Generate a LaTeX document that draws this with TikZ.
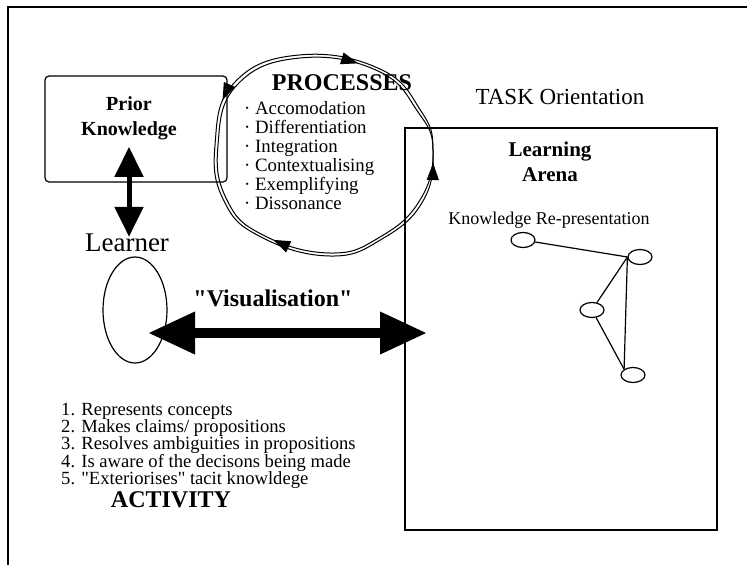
\documentclass[tikz,border=0pt]{standalone}
\usepackage{fontspec}
\setmainfont{Liberation Serif}[Ligatures=TeXOff]
\usetikzlibrary{arrows.meta,shapes.geometric,positioning,decorations.markings}
\tikzset{cyctip/.tip={Triangle[length=17pt,width=12pt]}}
\tikzstyle{box} = [rectangle, draw=black, line width=1.2pt]
\tikzstyle{pkbox} = [rectangle, rounded corners=4pt, minimum width=182pt, minimum height=106pt, draw=black, line width=1.2pt]
\tikzstyle{knode} = [ellipse, draw=black, line width=1.2pt, minimum width=24pt, minimum height=15pt, inner sep=0pt]
\tikzstyle{darrow} = [line width=5pt, {Triangle[length=30pt,width=28pt]}-{Triangle[length=30pt,width=28pt]}]
\tikzstyle{bigarrow} = [line width=10pt, {Triangle[length=47pt,width=40pt]}-{Triangle[length=47pt,width=40pt]}]
\tikzstyle{cyc} = [line width=1pt]
\tikzstyle{fwdtips} = [postaction={decorate, decoration={markings, mark=at position 220pt with {\arrow{cyctip}}, mark=at position 533pt with {\arrow{cyctip}}}}]
\tikzstyle{backtips} = [postaction={decorate, decoration={markings, mark=at position 13pt with {\arrowreversed{cyctip}}, mark=at position 394pt with {\arrowreversed{cyctip}}}}]
\tikzstyle{txt} = [inner sep=0pt, align=center]

\begin{document}
\begin{tikzpicture}[x=1pt,y=-1pt]
\useasboundingbox (0,0) rectangle (747,565);
\draw[line width=1.2pt] (747,7) -- (8,7) -- (8,565);
% learner side
\node[pkbox] (prior) at (136,129) {};
\node[txt, font=\fontsize{20}{25}\selectfont\bfseries] (priortxt) at (129,118) {Prior\\Knowledge};
\node[txt, font=\fontsize{27}{30}\selectfont] (learnertxt) at (127,243) {Learner};
\node[ellipse, draw=black, line width=1.2pt, minimum width=64pt, minimum height=106pt] (learner) at (135,310) {};
\draw[darrow, shorten <=7pt, shorten >=-3pt] (priortxt.south) -- (priortxt.south |- learnertxt.north);
% processes cycle
\draw[cyc, fwdtips] plot [smooth cycle, tension=0.75] coordinates {(418,112) (433,150) (420,200) (380,237) (330,253) (263,235) (227,200) (218,145) (237,85) (300,58) (378,71)};
\draw[cyc, backtips] plot [smooth cycle, tension=0.75] coordinates {(421,111) (433,150) (423,201) (382,239) (330,256) (261,237) (224,201) (215,145) (234,83) (299,55) (380,69)};
\node[txt, font=\fontsize{24}{26}\selectfont\bfseries] (proc) at (342,83) {PROCESSES};
\node[txt, anchor=west, align=left, font=\fontsize{18.8}{19}\selectfont] (proclist) at (244,156) {· Accomodation\\· Differentiation\\· Integration\\· Contextualising\\· Exemplifying\\· Dissonance};
% task side
\node[txt, font=\fontsize{23}{26}\selectfont] (task) at (560,97) {TASK Orientation};
\node[box, minimum width=312pt, minimum height=402pt] (arena) at (561,329) {};
\node[txt, font=\fontsize{21}{25}\selectfont\bfseries] (arenatxt) at (550,162) {Learning\\Arena};
\node[txt, font=\fontsize{18}{20}\selectfont] (krtxt) at (549,220) {Knowledge Re-presentation};
\node[knode] (kr1) at (523,240) {};
\node[knode] (kr2) at (640,257) {};
\node[knode] (kr3) at (592,310) {};
\node[knode] (kr4) at (633,375) {};
\draw[line width=1.2pt] (kr1) -- (kr2.west);
\draw[line width=1.2pt] (kr2.west) -- (kr3);
\draw[line width=1.2pt] (kr2.west) -- (kr4.north west);
\draw[line width=1.2pt] (kr3) -- (kr4.north west);
% visualisation
\node[txt, font=\fontsize{24}{26}\selectfont\bfseries] (vis) at (273,298) {"Visualisation"};
\coordinate (visL) at (148,333);
\coordinate (visR) at (427,333);
\draw[bigarrow] (visL) -- (visR);
% activity
\node[txt, anchor=west, align=left, font=\fontsize{18.6}{17}\selectfont] (actlist) at (61,446) {1. Represents concepts\\2. Makes claims/ propositions\\3. Resolves ambiguities in propositions\\4. Is aware of the decisons being made\\5. "Exteriorises" tacit knowldege};
\node[txt, font=\fontsize{24}{26}\selectfont\bfseries] (act) at (171,500) {ACTIVITY};
\end{tikzpicture}
\end{document}
